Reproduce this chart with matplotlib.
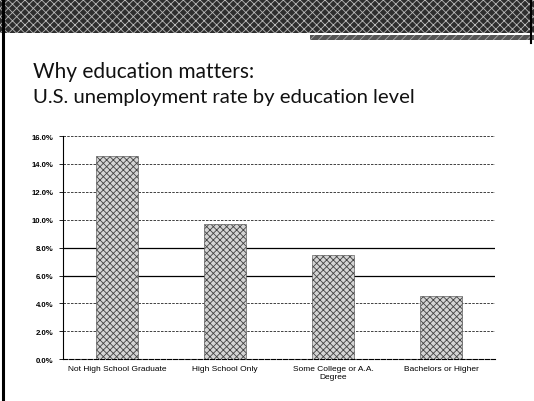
#!/usr/bin/env python
# unemployment rate by education level, slide-style bar chart
import numpy as np
import matplotlib.pyplot as plt
from matplotlib.patches import Rectangle
from matplotlib.lines import Line2D

levels = ['Not High School Graduate', 'High School Only',
          'Some College or A.A.\nDegree', 'Bachelors or Higher']
rates = [14.6, 9.7, 7.5, 4.5]
yticks = [0, 2, 4, 6, 8, 10, 12, 14, 16]
solid_lines = [6, 8]

plt.rcParams['hatch.linewidth'] = 0.6
plt.rcParams['hatch.color'] = '#333333'

fig = plt.figure(figsize=(5.34, 4.02), dpi=100)

# dark banner across the top of the slide
fig.patches.append(Rectangle((0.0, 0.915), 1.0, 0.085, transform=fig.transFigure,
                             facecolor='#2e2e2e', edgecolor='#bbbbbb',
                             hatch='xxxx', lw=0, zorder=0))
fig.patches.append(Rectangle((0.58, 0.897), 0.42, 0.014, transform=fig.transFigure,
                             facecolor='#555555', edgecolor='#aaaaaa', hatch='////',
                             lw=0, zorder=0))
fig.lines.append(Line2D([0.006, 0.006], [0, 1], transform=fig.transFigure,
                        color='black', lw=2.2))
fig.lines.append(Line2D([0.995, 0.995], [0.89, 1], transform=fig.transFigure,
                        color='black', lw=1.5))

fig.text(0.062, 0.822, 'Why education matters:', fontsize=15,
         family='Lato', color='#111111', va='center')
fig.text(0.062, 0.758, 'U.S. unemployment rate by education level', fontsize=14.6,
         family='Lato', color='#111111', va='center')

ax = fig.add_axes([0.118, 0.104, 0.809, 0.555])
x = np.arange(len(levels))
ax.bar(x, rates, width=0.38, facecolor='#d4d4d4', edgecolor='#444444',
       hatch='xxxxx', lw=0.4, zorder=3)

ax.set_xlim(-0.5, len(levels) - 0.5)
ax.set_ylim(0, 16)
ax.set_yticks(yticks)
ax.set_yticklabels(['%.1f%%' % t for t in yticks],
                   fontsize=5.6, family='Liberation Sans', fontweight='bold')
ax.set_xticks(x)
ax.set_xticklabels(levels, fontsize=6, family='Liberation Sans')
ax.tick_params(axis='x', length=0, pad=4)
ax.tick_params(axis='y', length=3, width=0.6, pad=4)

for t in yticks[1:]:
    if t in solid_lines:
        ax.axhline(t, color='black', lw=0.9, zorder=1)
    else:
        ax.axhline(t, color='#222222', lw=0.6, ls=(0, (3, 1.5)), zorder=1)

for s in ('top', 'right'):
    ax.spines[s].set_visible(False)
ax.spines['left'].set_linewidth(0.8)
ax.spines['bottom'].set_linewidth(0.8)
ax.spines['bottom'].set_linestyle((0, (4, 1.5)))

fig.savefig('out.png', dpi=100)
